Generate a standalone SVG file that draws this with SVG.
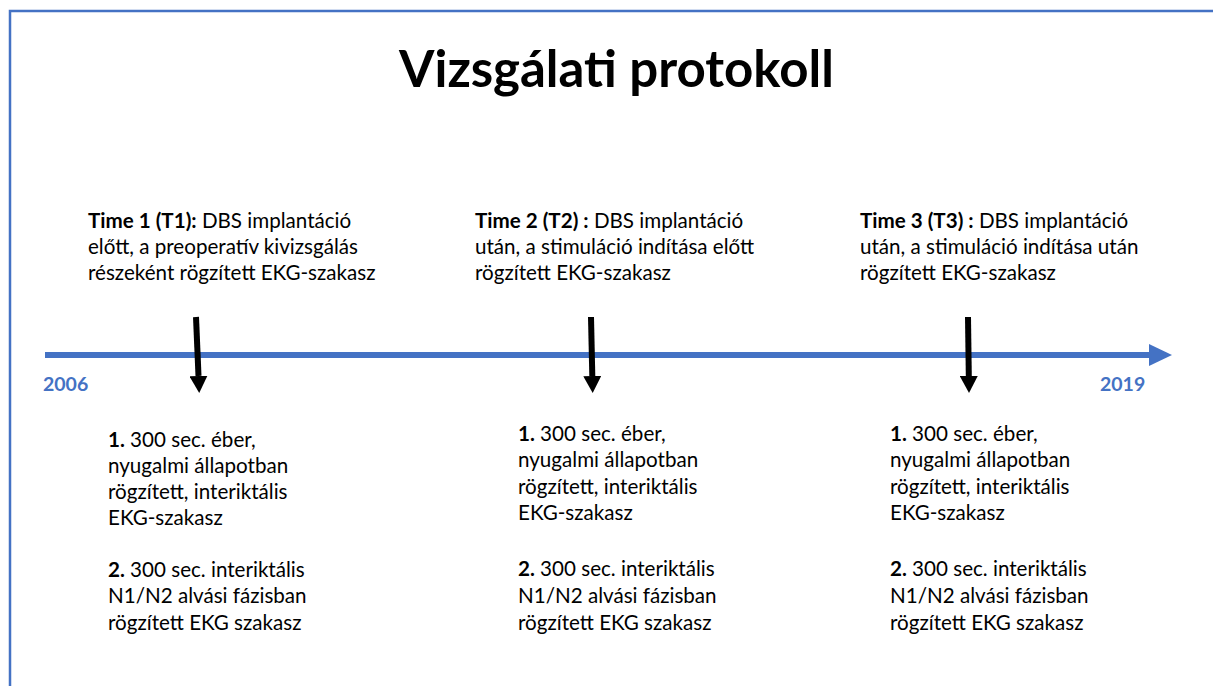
<svg xmlns="http://www.w3.org/2000/svg" width="1213" height="686" viewBox="0 0 1213 686">
<style>
text{font-family:Lato,"Open Sans","Liberation Sans",sans-serif;fill:#000}
.t{font-size:20.6px}
.b{font-weight:bold}
.yr{font-size:19.5px;font-weight:bold;fill:#4472C4}
.title{font-size:51px;font-weight:bold}
</style>
<defs>
<marker id="ah" markerUnits="userSpaceOnUse" markerWidth="17" markerHeight="18" viewBox="0 0 17 18" refX="0" refY="9" orient="auto">
<path d="M0,0 L17,9 L0,18 Z" fill="#000"/>
</marker>
</defs>
<rect width="1213" height="686" fill="#fff"/>
<path d="M10,686 V11 H1213" fill="none" stroke="#4472C4" stroke-width="2.5"/>
<text class="title" x="616.5" y="87" text-anchor="middle">Vizsgálati protokoll</text>
<g id="timeline">
<rect x="45" y="352" width="1105" height="6" fill="#4472C4"/>
<polygon points="1149,344 1172,355 1149,366" fill="#4472C4"/>
<text class="yr" x="43" y="391">2006</text>
<text class="yr" x="1100" y="391">2019</text>
</g>
<g id="t1-header">
<text class="t" x="88" y="228"><tspan class="b">Time 1 (T1):</tspan> DBS implantáció</text>
<text class="t" x="88" y="254">előtt, a preoperatív kivizsgálás</text>
<text class="t" x="88" y="280">részeként rögzített EKG-szakasz</text>
</g>
<g id="t2-header">
<text class="t" x="475" y="228"><tspan class="b">Time 2 (T2) :</tspan> DBS implantáció</text>
<text class="t" x="475" y="254">után, a stimuláció indítása előtt</text>
<text class="t" x="475" y="280">rögzített EKG-szakasz</text>
</g>
<g id="t3-header">
<text class="t" x="860" y="228"><tspan class="b">Time 3 (T3) :</tspan> DBS implantáció</text>
<text class="t" x="860" y="254">után, a stimuláció indítása után</text>
<text class="t" x="860" y="280">rögzített EKG-szakasz</text>
</g>
<g id="t1-detail">
<text class="t" x="108" y="447"><tspan class="b">1.</tspan> 300 sec. éber,</text>
<text class="t" x="108" y="473">nyugalmi állapotban</text>
<text class="t" x="108" y="499">rögzített, interiktális</text>
<text class="t" x="108" y="525">EKG-szakasz</text>
<text class="t" x="108" y="577"><tspan class="b">2.</tspan> 300 sec. interiktális</text>
<text class="t" x="108" y="603">N1/N2 alvási fázisban</text>
<text class="t" x="108" y="630">rögzített EKG szakasz</text>
</g>
<g id="t2-detail">
<text class="t" x="518" y="441"><tspan class="b">1.</tspan> 300 sec. éber,</text>
<text class="t" x="518" y="467">nyugalmi állapotban</text>
<text class="t" x="518" y="494">rögzített, interiktális</text>
<text class="t" x="518" y="520">EKG-szakasz</text>
<text class="t" x="518" y="576"><tspan class="b">2.</tspan> 300 sec. interiktális</text>
<text class="t" x="518" y="603">N1/N2 alvási fázisban</text>
<text class="t" x="518" y="630">rögzített EKG szakasz</text>
</g>
<g id="t3-detail">
<text class="t" x="890" y="441"><tspan class="b">1.</tspan> 300 sec. éber,</text>
<text class="t" x="890" y="467">nyugalmi állapotban</text>
<text class="t" x="890" y="494">rögzített, interiktális</text>
<text class="t" x="890" y="520">EKG-szakasz</text>
<text class="t" x="890" y="576"><tspan class="b">2.</tspan> 300 sec. interiktális</text>
<text class="t" x="890" y="603">N1/N2 alvási fázisban</text>
<text class="t" x="890" y="630">rögzített EKG szakasz</text>
</g>
<g id="connectors" stroke="#000" stroke-width="6" marker-end="url(#ah)">
<line x1="196" y1="317" x2="198.5" y2="376"/>
<line x1="591" y1="317" x2="592.3" y2="376"/>
<line x1="968" y1="317" x2="968.8" y2="376"/>
</g>
</svg>
